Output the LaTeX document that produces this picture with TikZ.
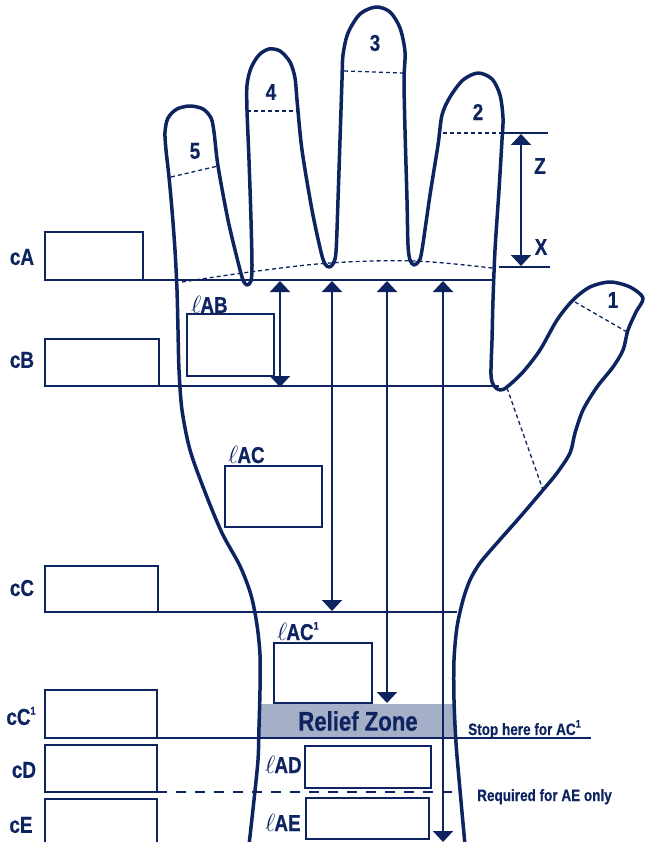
\documentclass[tikz,border=0pt]{standalone}
\usepackage{fontspec}
\setmainfont[FakeStretch=0.82, BoldFeatures={FakeBold=0.6}]{Liberation Sans}
\usetikzlibrary{arrows.meta}
\definecolor{navy}{RGB}{14,36,96}
\definecolor{relief}{RGB}{165,176,200}
\newcommand{\sone}{\raisebox{0.45em}{\fontsize{11}{11}\selectfont 1}}
\tikzset{
  outline/.style={draw=navy, line width=3.5pt, line cap=round, line join=round},
  thinline/.style={draw=navy, line width=1.6pt},
  boxr/.style={draw=navy, line width=2pt},
  fdash/.style={draw=navy, line width=1.3pt, dash pattern=on 4pt off 3pt},
  darr/.style={draw=navy, line width=2pt, {Triangle[width=20pt,length=11pt]}-{Triangle[width=20pt,length=11pt]}},
  biglbl/.style={text=navy, font=\fontsize{23}{23}\selectfont\bfseries, inner sep=0pt},
  ell/.style={text=navy, font=\fontsize{23}{23}\selectfont\bfseries, inner sep=0pt, anchor=base west},
  smalllbl/.style={text=navy, font=\fontsize{16.5}{16.5}\selectfont\bfseries, inner sep=0pt, anchor=base west}
}
\begin{document}
\begin{tikzpicture}[x=1pt,y=-1pt]
\useasboundingbox (0,0) rectangle (646,842);
\begin{scope}
\clip (0,0) rectangle (646,842);
% relief zone
\fill[relief] (258,704) rectangle (455,737);
\node[text=navy, font=\fontsize{27}{27}\selectfont\bfseries, inner sep=0pt] (rz) at (358,721) {Relief Zone};

% horizontal lines
\draw[thinline] (45,280) -- (492,280);
\draw[thinline] (45,386) -- (499,386);
\draw[thinline] (45,612) -- (457,612);
\draw[thinline] (45,738) -- (591,738);
\draw[navy, line width=1.6pt, dash pattern=on 10pt off 9pt] (157,792) -- (461,792);

% boxes
\draw[boxr] (45,232) rectangle (143,280);
\draw[boxr] (45,339) rectangle (159,386);
\draw[boxr] (187,314) rectangle (274,376);
\draw[boxr] (225,466) rectangle (322,527);
\draw[boxr] (45,566) rectangle (158,612);
\draw[boxr] (274,643) rectangle (372,703);
\draw[boxr] (45,690) rectangle (157,738);
\draw[boxr] (45,745) rectangle (157,792);
\draw[boxr] (305,746) rectangle (431,788);
\draw[boxr] (45,799) rectangle (157,850);
\draw[boxr] (306,798) rectangle (429,839);

% finger dashed lines
\draw[fdash] (171,177) -- (218,166);
\draw[fdash] (247,111) -- (297,111);
\draw[fdash] (344,71) -- (403,73);
\draw[fdash] (443,133) -- (502,133);
\draw[fdash] (575,302) -- (627,332);
\draw[fdash] (507,388) -- (543,490);
\draw[fdash] plot[smooth, tension=0.6] coordinates {(182,282) (250,272) (330,263) (414,261) (492,268)};

% hand outline
\draw[outline] plot[smooth, tension=0.5] coordinates {
(249,845) (254,800) (258,760) (259,727) (260,690) (260,655) (257,625) (251,595) (240,566) (222,533) (205,492) (190,450) (182,410) (179,370) (178,330) (177,290) (175,250) (172,210) (169,177) (166,150) (165,132) (168,118) (177,109) (190,106) (203,109) (211,118) (214,132) (218,166) (228,220) (238,262) (243,280) (247,285) (251,281) (252,265) (251,220) (249,160) (247,110) (247,85) (251,68) (259,55) (269,49) (280,51) (290,62) (295,78) (297,100) (302,150) (312,210) (321,252) (325,264) (329,267) (333,264) (336,252) (338,200) (340,140) (342,80) (343,55) (348,33) (360,14) (376,7) (390,12) (400,28) (405,52) (404,80) (405,130) (407,200) (408,245) (410,260) (414,265) (419,261) (422,250) (430,195) (438,145) (442,115) (450,97) (463,80) (478,73) (492,79) (500,95) (503,118) (502,140) (499,190) (495,250) (493,300) (492,340) (491,375) (494,386) (500,390) (507,387) (523,372) (540,350) (557,320) (573,300) (590,287) (610,282) (630,287) (643,298) (636,312) (628,330) (623,350) (613,367) (597,387) (583,410) (575,433) (570,453) (557,473) (543,490) (520,517) (497,543) (480,563) (470,580) (463,600) (457,627) (454,660) (454,700) (456,743) (460,790) (465,845)};

% measurement arrows
\coordinate (a1t) at (280,281); \coordinate (a1b) at (280,387);
\coordinate (a2t) at (332,281); \coordinate (a2b) at (332,611);
\coordinate (a3t) at (387,281); \coordinate (a3b) at (387,703);
\coordinate (a4t) at (443,281); \coordinate (a4b) at (443,842);
\draw[darr] (a1t) -- (a1b);
\draw[darr] (a2t) -- (a2b);
\draw[darr] (a3t) -- (a3b);
\draw[darr] (a4t) -- (a4b);

% Z / X dimension
\draw[navy, line width=2pt] (499,133) -- (548,133);
\draw[navy, line width=2pt] (499,267) -- (550,267);
\coordinate (zt) at (521,134); \coordinate (zb) at (521,266);
\draw[darr] (zt) -- (zb);
\node[biglbl] (lz) at (540,166) {Z};
\node[biglbl] (lx) at (541,247) {X};

% finger numbers
\node[biglbl] (n5) at (195,151) {5};
\node[biglbl] (n4) at (271,92) {4};
\node[biglbl] (n3) at (375,43) {3};
\node[biglbl] (n2) at (478,112) {2};
\node[biglbl] (n1) at (613,300) {1};

% left labels
\node[biglbl] (lca) at (22,257) {cA};
\node[biglbl] (lcb) at (22,360) {cB};
\node[biglbl] (lcc) at (22,588) {cC};
\node[biglbl] (lcc1) at (21,716) {cC\sone};
\node[biglbl] (lcd) at (24,770) {cD};
\node[biglbl] (lce) at (21,825) {cE};

% length labels
\node[ell] (lab) at (191,313) {$\ell$\kern-1pt AB};
\node[ell] (lac) at (228,463) {$\ell$\kern-1pt AC};
\node[ell] (lac1) at (277,640) {$\ell$\kern-1pt AC\sone};
\node[ell] (lad) at (265,773) {$\ell$\kern-1pt AD};
\node[ell] (lae) at (265,831) {$\ell$\kern-1pt AE};

% notes
\node[smalllbl] (stop) at (468,735) {Stop here for AC\sone};
\node[smalllbl] (req) at (477,801) {Required for AE only};
\end{scope}
\end{tikzpicture}
\end{document}
